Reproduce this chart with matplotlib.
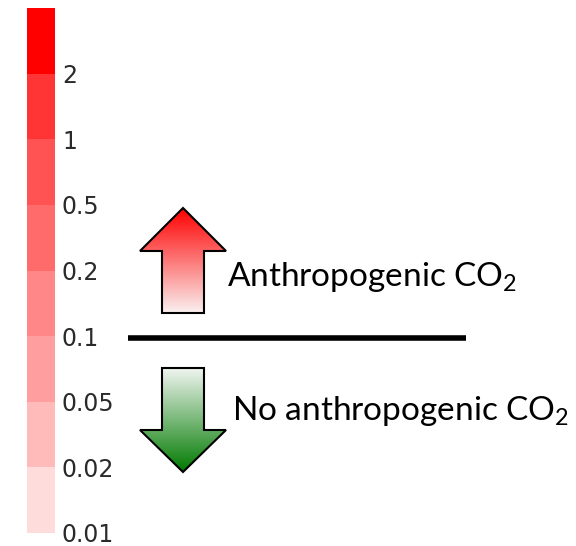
import numpy as np
import matplotlib
matplotlib.use('Agg')
import matplotlib.pyplot as plt
from matplotlib.colors import ListedColormap, BoundaryNorm, to_rgb
from matplotlib.cm import ScalarMappable
from matplotlib.patches import Polygon

plt.rcParams['mathtext.default'] = 'regular'

# Colour bar levels (bottom to top) and band colours
levels = ['0.01', '0.02', '0.05', '0.1', '0.2', '0.5', '1', '2']
band_colors = ['#FFDCDC', '#FFBABA', '#FF9E9E', '#FF8787',
               '#FF6B6B', '#FF5252', '#FF3535', '#FF0000']

# Labels for the two arrows
up_label = 'Anthropogenic CO$_2$'
down_label = 'No anthropogenic CO$_2$'

W, H = 576, 546
fig = plt.figure(figsize=(W / 100, H / 100), dpi=100)

# colour bar
cax = fig.add_axes([27 / W, (H - 533) / H, 28 / W, 525 / H])
n = len(band_colors)
bounds = np.arange(n + 1)
sm = ScalarMappable(norm=BoundaryNorm(bounds, n), cmap=ListedColormap(band_colors))
cb = fig.colorbar(sm, cax=cax)
cb.set_ticks(np.arange(len(levels)), labels=levels)
cb.outline.set_visible(False)
cax.minorticks_off()
cax.tick_params(which='both', length=0, pad=5, labelsize=17, labelcolor='#2a2a2a')

# overlay in pixel coordinates
ax = fig.add_axes([0, 0, 1, 1])
ax.set_xlim(0, W)
ax.set_ylim(H, 0)
ax.axis('off')


def gradient_arrow(pts, top_col, bot_col):
    poly = Polygon(pts, closed=True, facecolor='none', edgecolor='black',
                   linewidth=1.5, zorder=3)
    ax.add_patch(poly)
    xs = [p[0] for p in pts]
    ys = [p[1] for p in pts]
    t = np.linspace(0, 1, 256)[:, None]
    c0 = np.array(to_rgb(top_col))
    c1 = np.array(to_rgb(bot_col))
    img = (1 - t)[..., None] * c0 + t[..., None] * c1
    img = np.repeat(img, 2, axis=1)
    im = ax.imshow(img, extent=(min(xs), max(xs), max(ys), min(ys)),
                   origin='upper', aspect='auto', zorder=2, interpolation='bilinear')
    im.set_clip_path(poly)


up_pts = [(183, 208), (226, 251), (204, 251), (204, 313),
          (162, 313), (162, 251), (140, 251)]
down_pts = [(162, 368), (204, 368), (204, 430), (226, 430),
            (183, 472), (140, 430), (162, 430)]
gradient_arrow(up_pts, '#FF0000', '#FAF0F0')
gradient_arrow(down_pts, '#F0F5F0', '#007A00')
ax.set_xlim(0, W)
ax.set_ylim(H, 0)

ax.plot([128, 466], [338, 338], color='black', linewidth=4, solid_capstyle='butt')

ax.text(227, 286, up_label, fontsize=24, family='Lato', va='baseline', ha='left')
ax.text(232, 420, down_label, fontsize=24, family='Lato', va='baseline', ha='left')

fig.savefig('out.png', dpi=100)
